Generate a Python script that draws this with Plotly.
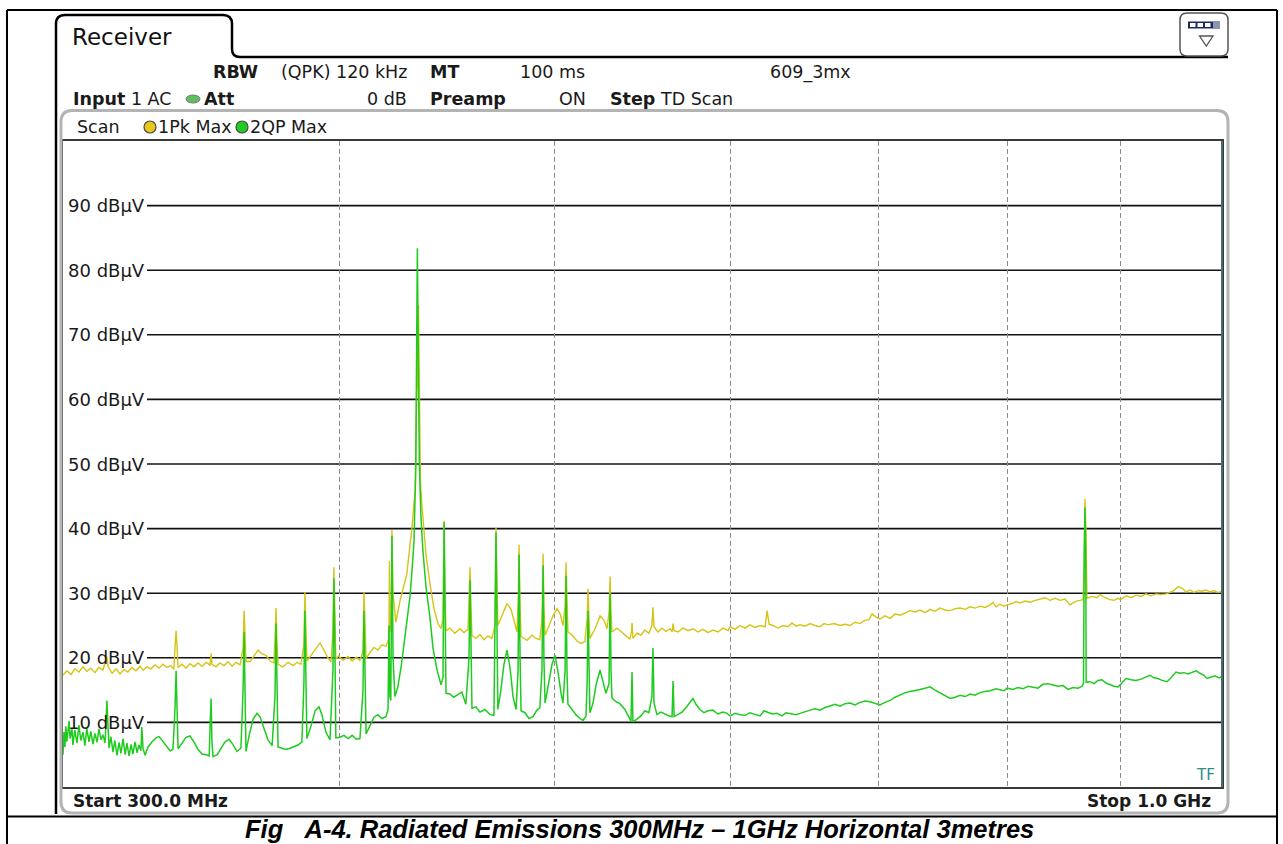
import plotly.graph_objects as go
import math

# ---------------- data ----------------
pk_freq_mhz = [
    300.0, 301.2, 302.5, 303.7, 305.0, 306.3, 307.5, 308.8, 310.1, 311.4,
    312.7, 313.7, 314.0, 314.4, 315.7, 317.0, 318.3, 319.6, 320.9, 322.3,
    323.6, 325.0, 326.0, 327.4, 328.7, 330.1, 331.5, 332.8, 334.2, 335.6,
    336.6, 337.0, 337.4, 337.7, 338.1, 339.5, 340.9, 342.3, 343.7, 345.2,
    346.6, 348.1, 349.5, 349.9, 350.2, 351.7, 353.1, 354.6, 356.1, 357.6,
    359.1, 360.6, 361.7, 362.1, 362.4, 362.8, 364.3, 365.8, 367.4, 368.9,
    370.4, 372.0, 373.5, 374.1, 374.3, 374.7, 375.1, 377.0, 379.0, 381.0,
    382.6, 384.1, 385.3, 385.7, 386.1, 386.5, 388.6, 390.2, 391.8, 393.4,
    395.0, 396.3, 397.1, 397.5, 397.9, 398.3, 399.5, 401.3, 403.4, 405.1,
    406.8, 408.4, 409.7, 410.1, 410.6, 411.0, 412.7, 414.4, 416.1, 417.8,
    419.6, 420.9, 421.1, 421.3, 421.9, 422.2, 422.7, 423.9, 425.8, 427.5,
    428.8, 430.2, 431.1, 432.0, 432.6, 433.1, 433.5, 434.0, 434.4, 434.9,
    435.5, 436.0, 437.4, 439.2, 441.1, 442.9, 444.3, 445.2, 445.7, 446.1,
    446.6, 448.4, 450.7, 453.1, 455.0, 456.9, 457.4, 457.9, 458.3, 458.8,
    460.7, 462.6, 464.6, 466.5, 468.4, 469.9, 470.4, 470.9, 471.3, 473.3,
    475.8, 477.8, 479.3, 480.8, 481.5, 481.8, 482.3, 482.8, 485.8, 488.3,
    490.3, 492.3, 493.4, 494.0, 494.4, 495.0, 497.1, 499.1, 501.2, 502.8,
    504.3, 505.4, 505.9, 506.4, 506.9, 509.1, 511.7, 513.8, 515.9, 517.1,
    517.6, 518.1, 518.6, 521.4, 524.1, 526.3, 527.9, 529.0, 529.6, 530.1,
    530.6, 533.4, 536.2, 538.4, 540.6, 541.5, 541.8, 542.3, 544.6, 546.8,
    549.1, 551.4, 553.1, 553.7, 554.3, 556.6, 558.9, 561.2, 563.6, 564.8,
    565.4, 566.0, 568.3, 571.3, 574.2, 577.2, 580.2, 583.2, 586.3, 589.3,
    592.4, 595.5, 598.6, 600.0, 602.9, 606.1, 609.3, 612.4, 615.6, 618.9,
    622.1, 623.4, 624.7, 627.2, 630.5, 633.8, 637.1, 639.7, 642.4, 645.1,
    648.5, 651.9, 655.2, 658.6, 661.4, 664.1, 668.3, 672.5, 676.0, 679.5,
    683.0, 686.6, 690.1, 693.0, 695.2, 698.1, 701.0, 704.6, 708.4, 712.1,
    715.9, 719.6, 723.4, 726.9, 730.7, 734.6, 738.4, 742.2, 746.1, 750.0,
    754.0, 757.9, 761.8, 765.8, 769.8, 773.7, 777.8, 781.8, 786.0, 788.3,
    790.7, 793.9, 797.3, 800.0, 804.0, 807.4, 810.8, 815.0, 819.3, 823.6,
    827.9, 832.0, 836.4, 840.8, 845.2, 849.6, 853.9, 858.4, 862.7, 865.6,
    866.8, 867.3, 868.2, 869.1, 873.7, 878.3, 881.0, 885.6, 890.2, 893.9,
    897.8, 900.0, 905.1, 909.9, 914.6, 919.4, 924.0, 928.8, 933.7, 938.6,
    943.5, 947.5, 951.3, 955.3, 959.3, 963.3, 967.4, 971.3, 975.3, 979.4,
    983.5, 987.7, 991.7, 995.9, 1000.0,
]
pk_level_dbuv = [
    17.3, 18.0, 17.4, 18.3, 17.8, 18.6, 17.9, 18.4, 17.7, 18.5,
    18.1, 19.6, 20.2, 18.6, 17.6, 18.3, 17.5, 18.2, 17.8, 18.5,
    18.0, 18.7, 18.1, 18.6, 18.3, 18.9, 18.4, 19.0, 18.5, 18.8,
    18.2, 21.5, 24.2, 22.0, 18.5, 19.0, 18.4, 19.1, 18.6, 19.2,
    18.7, 19.3, 18.9, 20.7, 19.0, 18.6, 19.2, 18.8, 19.4, 18.7,
    19.3, 18.9, 21.5, 27.3, 24.0, 19.5, 19.4, 20.3, 21.2, 20.6,
    20.4, 19.5, 19.2, 25.0, 27.7, 22.0, 19.0, 18.6, 19.3, 18.8,
    19.3, 19.0, 22.0, 30.2, 26.0, 19.5, 20.6, 21.5, 22.3, 21.2,
    20.0, 19.4, 24.0, 34.0, 28.0, 19.8, 20.3, 19.6, 20.2, 19.5,
    20.1, 19.6, 21.0, 30.2, 25.0, 19.9, 20.8, 21.6, 21.2, 22.0,
    21.8, 23.0, 35.0, 24.0, 25.0, 39.8, 30.0, 25.5, 28.9, 31.5,
    33.0, 37.5, 40.2, 44.0, 46.0, 60.0, 62.0, 74.6, 60.0, 47.0,
    44.0, 41.7, 36.0, 31.5, 27.5, 25.3, 24.5, 26.0, 41.2, 30.0,
    24.2, 24.6, 23.8, 24.5, 23.9, 24.4, 30.0, 34.0, 28.0, 23.5,
    23.0, 23.6, 22.8, 23.4, 23.0, 25.0, 40.2, 32.0, 25.0, 26.5,
    28.4, 27.5, 25.5, 24.0, 30.0, 37.5, 28.0, 23.3, 22.7, 23.5,
    23.0, 22.8, 26.0, 36.1, 28.0, 23.5, 25.0, 26.5, 27.6, 26.8,
    25.0, 28.0, 34.8, 27.0, 24.0, 23.5, 22.6, 22.2, 22.5, 26.0,
    30.7, 26.0, 23.0, 24.5, 26.5, 25.8, 24.5, 27.0, 32.6, 27.0,
    24.0, 24.6, 24.0, 23.4, 22.9, 24.0, 25.4, 23.0, 23.8, 23.5,
    24.3, 23.8, 25.0, 27.8, 24.8, 24.0, 24.6, 24.1, 24.5, 24.0,
    25.3, 24.2, 24.0, 24.6, 24.2, 24.5, 24.0, 24.4, 23.9, 24.3,
    24.0, 24.6, 24.2, 24.8, 24.4, 25.0, 24.6, 25.1, 24.7, 25.0,
    24.8, 27.3, 25.2, 25.0, 24.6, 25.0, 24.8, 25.4, 24.9, 25.1,
    24.9, 25.3, 25.0, 24.8, 25.3, 25.1, 25.3, 25.0, 25.2, 25.0,
    25.5, 25.3, 25.8, 25.9, 26.8, 26.3, 26.0, 26.5, 26.1, 26.8,
    26.6, 27.0, 27.3, 27.1, 27.4, 27.0, 27.5, 27.2, 27.7, 27.4,
    27.3, 27.6, 27.7, 27.5, 27.9, 27.7, 28.0, 27.8, 28.2, 28.6,
    27.9, 28.3, 28.0, 28.2, 28.4, 28.7, 28.5, 28.8, 28.6, 28.9,
    29.1, 29.3, 28.9, 29.2, 28.9, 29.1, 28.2, 28.7, 28.9, 29.0,
    35.0, 44.6, 40.0, 29.2, 29.5, 29.3, 29.8, 29.3, 29.0, 28.9,
    29.2, 29.0, 29.6, 29.3, 29.7, 29.5, 29.9, 29.6, 29.9, 29.8,
    29.9, 30.2, 30.4, 31.0, 30.8, 30.2, 30.5, 30.1, 30.4, 30.3,
    30.5, 30.2, 30.4, 30.1, 30.3,
]

qp_freq_mhz = [
    300.0, 300.3, 300.6, 300.9, 301.2, 301.9, 302.2, 302.8, 303.1, 303.7,
    304.4, 305.0, 305.6, 306.3, 306.9, 307.5, 308.2, 308.8, 309.5, 310.1,
    310.8, 311.4, 312.1, 312.7, 313.4, 313.7, 314.0, 314.4, 314.7, 315.3,
    316.0, 316.6, 317.3, 318.0, 318.6, 319.3, 320.0, 320.6, 321.3, 322.0,
    322.6, 323.3, 324.0, 324.6, 325.3, 325.6, 326.0, 326.7, 327.7, 329.1,
    330.4, 331.5, 332.8, 334.2, 335.3, 336.3, 337.0, 337.4, 337.7, 338.1,
    339.5, 340.9, 342.3, 343.7, 345.2, 346.6, 348.1, 349.2, 349.5, 349.9,
    350.2, 350.6, 352.1, 353.5, 355.0, 356.5, 357.9, 359.4, 360.9, 361.7,
    362.1, 362.4, 362.8, 364.0, 365.5, 367.0, 368.2, 369.7, 371.2, 372.8,
    373.9, 374.3, 374.7, 375.1, 376.6, 378.2, 379.8, 381.4, 383.0, 384.5,
    385.3, 385.7, 386.1, 386.5, 388.2, 389.8, 391.4, 392.6, 394.2, 395.9,
    397.1, 397.5, 397.9, 398.3, 400.0, 401.7, 403.4, 405.1, 406.8, 408.4,
    409.7, 410.1, 410.6, 411.0, 412.7, 414.4, 416.1, 417.8, 419.6, 420.5,
    420.9, 421.3, 421.7, 422.2, 422.7, 423.5, 424.8, 426.2, 427.5, 428.8,
    430.2, 431.1, 432.0, 432.8, 433.5, 434.0, 434.4, 435.1, 436.0, 437.4,
    439.2, 440.6, 442.4, 444.3, 445.2, 445.7, 446.1, 446.6, 448.4, 450.2,
    452.1, 454.0, 455.9, 457.4, 457.9, 458.3, 458.8, 460.7, 462.6, 465.0,
    467.5, 469.4, 469.9, 470.4, 470.9, 471.3, 472.8, 474.3, 475.8, 477.3,
    478.8, 480.3, 481.3, 481.8, 482.3, 482.8, 484.8, 486.8, 488.8, 490.8,
    492.3, 493.4, 494.0, 494.4, 495.0, 496.5, 498.6, 500.1, 501.7, 503.3,
    504.3, 505.4, 505.9, 506.4, 506.9, 509.1, 511.1, 513.3, 514.9, 516.5,
    517.1, 517.6, 518.1, 518.6, 520.3, 521.9, 524.1, 525.7, 527.3, 529.0,
    529.6, 530.1, 530.6, 532.8, 535.0, 537.8, 540.0, 541.2, 541.8, 542.3,
    544.6, 546.8, 549.1, 551.4, 553.1, 553.7, 554.3, 556.0, 558.3, 560.6,
    563.1, 564.8, 565.4, 566.0, 568.3, 570.7, 573.1, 575.4, 577.2, 579.0,
    581.4, 583.8, 586.3, 589.3, 592.4, 595.5, 598.0, 600.0, 602.9, 606.1,
    609.3, 612.4, 615.6, 618.9, 621.4, 624.0, 626.6, 629.8, 633.1, 635.8,
    639.1, 642.4, 645.1, 648.5, 651.9, 655.2, 658.6, 662.1, 665.6, 669.1,
    672.5, 676.0, 679.5, 683.0, 686.6, 690.1, 693.8, 697.3, 701.0, 704.6,
    708.4, 712.1, 715.9, 719.6, 723.4, 726.9, 730.7, 734.6, 738.4, 742.2,
    746.1, 750.0, 754.0, 757.9, 761.8, 765.8, 769.8, 773.7, 777.8, 781.8,
    786.0, 790.7, 793.9, 797.3, 800.0, 804.8, 809.0, 813.3, 817.5, 821.7,
    826.0, 830.3, 834.6, 839.0, 843.4, 847.8, 852.2, 856.6, 861.1, 864.7,
    866.0, 866.6, 867.3, 868.0, 868.4, 871.9, 875.5, 879.1, 882.8, 886.5,
    890.2, 893.9, 897.8, 900.0, 905.1, 909.9, 914.6, 919.4, 924.0, 927.9,
    931.8, 935.6, 939.6, 944.5, 948.4, 953.3, 957.3, 961.3, 965.3, 969.3,
    973.4, 977.4, 981.5, 984.5, 988.6, 992.8, 996.9, 1000.0,
]
qp_level_dbuv = [
    5.0, 8.5, 6.2, 9.4, 7.0, 10.2, 7.5, 9.0, 6.5, 8.8,
    6.8, 9.6, 7.2, 8.5, 6.4, 9.1, 7.0, 8.6, 6.6, 8.3,
    6.9, 9.0, 7.3, 8.1, 6.8, 10.0, 13.4, 9.0, 6.0, 7.8,
    5.4, 7.2, 4.9, 6.9, 5.2, 7.5, 5.0, 6.8, 4.8, 6.6,
    5.1, 7.0, 5.3, 6.5, 5.6, 9.3, 6.0, 4.9, 6.2, 7.0,
    7.6, 7.8, 7.0, 6.1, 5.6, 5.8, 12.0, 18.0, 10.0, 5.9,
    6.8, 7.7, 7.9, 7.0, 5.8, 5.1, 5.0, 4.8, 9.0, 13.7,
    7.0, 4.7, 5.0, 5.9, 7.0, 7.4, 6.6, 5.5, 6.0, 15.0,
    24.0, 16.0, 5.5, 8.0, 10.5, 11.4, 10.8, 9.0, 7.3, 6.4,
    14.0, 25.3, 17.0, 6.2, 6.0, 5.8, 6.0, 6.3, 6.5, 7.0,
    16.0, 27.3, 18.0, 7.5, 9.5, 11.8, 12.4, 11.2, 8.5, 7.3,
    18.0, 32.3, 22.0, 7.6, 7.7, 8.0, 7.5, 8.0, 7.4, 7.5,
    15.0, 27.3, 17.0, 8.2, 9.5, 10.8, 11.2, 10.6, 10.9, 12.0,
    25.0, 14.0, 13.4, 38.9, 20.0, 14.0, 15.5, 18.5, 22.0, 25.5,
    29.5, 33.5, 38.0, 50.0, 83.4, 63.0, 50.0, 42.0, 36.6, 31.0,
    26.3, 21.5, 18.2, 15.8, 17.0, 41.0, 22.0, 14.5, 14.4, 13.9,
    14.3, 14.7, 12.8, 20.0, 32.0, 18.0, 12.2, 12.4, 11.6, 12.0,
    11.2, 11.1, 22.0, 39.4, 24.0, 12.0, 15.0, 19.0, 21.2, 18.5,
    14.0, 12.0, 18.0, 36.0, 20.0, 11.8, 11.5, 10.6, 10.9, 11.9,
    12.2, 18.0, 34.3, 20.0, 13.0, 15.5, 19.0, 20.4, 17.8, 14.5,
    13.0, 18.0, 32.7, 18.0, 12.8, 12.0, 11.2, 10.6, 10.3, 11.0,
    16.0, 27.3, 16.0, 11.5, 13.0, 15.8, 18.1, 16.5, 14.5, 16.0,
    30.0, 18.0, 13.8, 13.2, 12.9, 12.0, 10.8, 10.2, 17.8, 10.1,
    10.5, 11.0, 11.8, 11.5, 14.0, 21.5, 13.0, 11.2, 11.6, 11.3,
    11.0, 10.9, 16.4, 10.9, 11.3, 11.6, 12.3, 13.2, 13.7, 12.8,
    12.0, 11.5, 11.8, 11.9, 11.3, 11.6, 11.4, 11.0, 11.4, 11.2,
    11.1, 11.5, 11.2, 11.0, 11.8, 11.5, 11.3, 11.4, 11.0, 11.5,
    11.4, 11.2, 11.4, 11.7, 11.9, 12.1, 11.9, 12.3, 12.6, 12.8,
    12.5, 12.9, 13.0, 12.7, 13.1, 13.3, 13.2, 12.9, 12.7, 13.1,
    13.4, 13.9, 14.3, 14.6, 14.8, 15.0, 15.1, 15.3, 15.5, 15.0,
    14.6, 14.1, 13.7, 13.9, 14.2, 14.0, 14.4, 14.2, 14.6, 14.8,
    14.9, 15.2, 15.0, 14.9, 15.3, 15.1, 15.4, 15.2, 15.6, 15.5,
    15.3, 15.9, 16.0, 15.8, 15.6, 15.7, 15.1, 15.4, 15.3, 15.6,
    16.0, 36.0, 43.3, 36.3, 16.2, 16.3, 16.0, 16.5, 16.6, 16.1,
    15.8, 15.6, 15.5, 15.9, 16.8, 16.6, 16.5, 16.7, 17.0, 17.3,
    16.9, 16.8, 16.5, 16.3, 16.9, 17.8, 17.6, 17.7, 17.5, 17.8,
    18.0, 17.6, 17.3, 16.8, 17.0, 17.2, 16.9, 17.1,
]

level_grid_dbuv = [10, 20, 30, 40, 50, 60, 70, 80, 90]
level_labels = ["10 dBµV", "20 dBµV", "30 dBµV", "40 dBµV", "50 dBµV",
                "60 dBµV", "70 dBµV", "80 dBµV", "90 dBµV"]
freq_grid_mhz = [400, 500, 600, 700, 800, 900]
freq_start_mhz, freq_stop_mhz = 300, 1000
level_min, level_max = 0, 100

# ---------------- layout geometry (pixels) ----------------
W, H = 1283, 844
L, R, T, B = 63, 1222, 141, 787


def px(x):
    return (x - L) / (R - L)


def py(y):
    return (B - y) / (B - T)


FONT = "DejaVu Sans"
TXT = "#1a1a1a"
INFO = 17.5

fig = go.Figure()
fig.add_trace(go.Scatter(x=pk_freq_mhz, y=pk_level_dbuv, mode="lines",
                         line=dict(color="#d6c414", width=1.4),
                         name="1Pk Max", hoverinfo="skip"))
fig.add_trace(go.Scatter(x=qp_freq_mhz, y=qp_level_dbuv, mode="lines",
                         line=dict(color="#1fcb1f", width=1.5),
                         name="2QP Max", hoverinfo="skip"))

shapes = []
annotations = []

# horizontal level lines (start right of the labels)
for lv, lab in zip(level_grid_dbuv, level_labels):
    shapes.append(dict(type="line", xref="paper", yref="y", x0=px(147), x1=1,
                       y0=lv, y1=lv, line=dict(color="#111111", width=1.6),
                       layer="below"))
    annotations.append(dict(xref="paper", yref="y", x=px(147), y=lv,
                            text=lab, showarrow=False, xanchor="right",
                            yanchor="middle",
                            font=dict(family=FONT, size=18, color=TXT)))


def line(x0, y0, x1, y1, color="#000000", width=2):
    shapes.append(dict(type="line", xref="paper", yref="paper",
                       x0=px(x0), y0=py(y0), x1=px(x1), y1=py(y1),
                       line=dict(color=color, width=width), layer="above"))


def path(points_cmds, color, width, fill=None):
    shapes.append(dict(type="path", xref="paper", yref="paper",
                       path=points_cmds, line=dict(color=color, width=width),
                       fillcolor=fill if fill else "rgba(0,0,0,0)",
                       layer="above"))


def P(x, y):
    return f"{px(x):.5f},{py(y):.5f}"


# outer document frame and caption separator
line(7, 10, 1277, 10)
line(7, 10, 7, 844)
line(1277, 10, 1277, 844)
line(7, 816.5, 1277, 816.5)

# gray panel frame around trace window
path(f"M {P(61,122)} Q {P(61,110.5)} {P(72,110.5)} L {P(1217,110.5)} "
     f"Q {P(1228,110.5)} {P(1228,122)} L {P(1228,802)} Q {P(1228,813)} {P(1217,813)} "
     f"L {P(72,813)} Q {P(61,813)} {P(61,802)} Z", "#b4b4b4", 3)

# tab "Receiver" with left border line
path(f"M {P(56,814)} L {P(56,24)} Q {P(56,15)} {P(65,15)} L {P(223,15)} "
     f"Q {P(232,15)} {P(232,24)} L {P(232,49)} Q {P(232,57)} {P(240,57)} "
     f"L {P(1228,57)}", "#000000", 2.5)

# top-right icon
path(f"M {P(1180,20)} Q {P(1180,13)} {P(1187,13)} L {P(1221,13)} Q {P(1228,13)} {P(1228,20)} "
     f"L {P(1228,49)} Q {P(1228,56)} {P(1221,56)} L {P(1187,56)} Q {P(1180,56)} {P(1180,49)} Z",
     "#555555", 1.5, "#ffffff")
shapes.append(dict(type="rect", xref="paper", yref="paper", x0=px(1188), x1=px(1220),
                   y0=py(28.5), y1=py(21.5), fillcolor="#1d2b5c", line=dict(width=0)))
for x0 in (1190, 1197.5, 1205):
    shapes.append(dict(type="rect", xref="paper", yref="paper", x0=px(x0), x1=px(x0 + 5.5),
                       y0=py(27), y1=py(23), fillcolor="#ffffff", line=dict(width=0)))
shapes.append(dict(type="rect", xref="paper", yref="paper", x0=px(1213), x1=px(1220),
                   y0=py(28.5), y1=py(21.5), fillcolor="#8a93b0", line=dict(width=0)))
path(f"M {P(1199.5,36)} L {P(1213,36)} L {P(1206.3,46)} Z", "#555555", 1.3, "#ffffff")

# status indicators
shapes.append(dict(type="circle", xref="paper", yref="paper", x0=px(186), x1=px(200),
                   y0=py(103), y1=py(95), fillcolor="#5fbf5f", line=dict(color="#7a7a7a", width=1)))
shapes.append(dict(type="circle", xref="paper", yref="paper", x0=px(144), x1=px(156),
                   y0=py(133), y1=py(121), fillcolor="#e8c81a", line=dict(color="#4a4a4a", width=1.2)))
shapes.append(dict(type="circle", xref="paper", yref="paper", x0=px(236), x1=px(248),
                   y0=py(133), y1=py(121), fillcolor="#22cc22", line=dict(color="#4a4a4a", width=1.2)))

# teal right edge of the diagram
shapes.append(dict(type="line", xref="paper", yref="paper", x0=1, x1=1, y0=0, y1=1,
                   line=dict(color="#3f6f70", width=2), layer="above"))


def text(s, x, y, anchor="left", size=INFO, color=TXT, family=FONT):
    annotations.append(dict(xref="paper", yref="paper", x=px(x), y=py(y), text=s,
                            showarrow=False, xanchor=anchor, yanchor="middle",
                            font=dict(family=family, size=size, color=color)))


text("Receiver", 70, 37, size=23, color="#111111")
text("<b>RBW</b>", 211, 72)
text("(QPK) 120 kHz", 409, 72, anchor="right")
text("<b>MT</b>", 428, 72)
text("100 ms", 518, 72)
text("609_3mx", 768, 72)
text("<b>Input</b> 1 AC", 71, 99)
text("<b>Att</b>", 202, 99)
text("0 dB", 409, 99, anchor="right")
text("<b>Preamp</b>", 428, 99)
text("ON", 588, 99, anchor="right")
text("<b>Step</b> TD Scan", 608, 99)
text("Scan", 75, 127)
text("1Pk Max", 156, 127)
text("2QP Max", 248, 127)
text("<b>Start 300.0 MHz</b>", 71, 801, size=17)
text("<b>Stop 1.0 GHz</b>", 1213, 801, anchor="right", size=17)
text("TF", 1217, 775, anchor="right", size=15, color="#2f8c8c")
text("<b><i>Fig\u00a0\u00a0\u00a0A-4. Radiated Emissions 300MHz – 1GHz Horizontal 3metres</i></b>",
     639, 829, anchor="center", size=25.5, color="#000000", family="Liberation Sans")

fig.update_layout(
    width=W, height=H, autosize=False,
    margin=dict(l=L, r=W - R, t=T, b=H - B, pad=0),
    paper_bgcolor="#ffffff", plot_bgcolor="#ffffff",
    showlegend=False, hovermode=False,
    shapes=shapes, annotations=annotations,
    xaxis=dict(type="log", range=[math.log10(freq_start_mhz), math.log10(freq_stop_mhz)],
               tickvals=freq_grid_mhz, showticklabels=False, ticks="",
               showgrid=True, gridcolor="#8a8a8a", gridwidth=1.3, griddash="5px,3px",
               zeroline=False, showline=True, linecolor="#3a3a3a", linewidth=1.5, mirror=True),
    yaxis=dict(range=[level_min, level_max], showgrid=False, showticklabels=False, ticks="",
               zeroline=False, showline=True, linecolor="#3a3a3a", linewidth=1.5, mirror=True),
)

fig.write_html("out.html", config={"displayModeBar": False},
               post_script="document.body.style.margin='0px';document.body.style.overflow='hidden';")
